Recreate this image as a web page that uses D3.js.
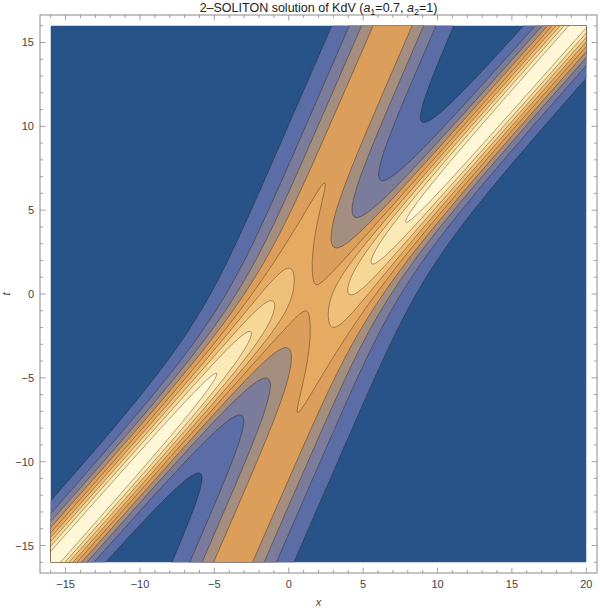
<!DOCTYPE html>
<html>
<head>
<meta charset="utf-8">
<script src="https://cdn.jsdelivr.net/npm/d3@7"></script>
<style>
  body { margin: 0; background: #fff; }
  text { font-family: "Liberation Sans", Arial, sans-serif; }
</style>
</head>
<body>
<script>
// soliton parameters (from the title) and phases
const amps = [0.7, 1];
const phases = [0.6, 0];
const xRange = [-16, 20];
const tRange = [-16, 16];
const levels = [0.05, 0.1, 0.15, 0.2, 0.25, 0.3, 0.35, 0.4, 0.45];
const bandColors = ["#275389", "#5a6da7", "#7b7c9b", "#a48e80", "#dc9f5b",
                    "#e6ab62", "#efc07a", "#f6d796", "#fbeab6", "#fff7d6"];
const xTicks = [-15, -10, -5, 0, 5, 10, 15, 20];
const tTicks = [-15, -10, -5, 0, 5, 10, 15];

const w = 600, h = 610;
const frameL = 40, frameR = 597, frameT = 15, frameB = 573;

// KdV two-soliton: u = 2 d2/dx2 log F
function kdv(x, t) {
  const [a1, a2] = amps;
  const A = Math.pow((a1 - a2) / (a1 + a2), 2);
  const e1 = Math.exp(a1 * x - a1 * a1 * a1 * t + phases[0]);
  const e2 = Math.exp(a2 * x - a2 * a2 * a2 * t + phases[1]);
  const e12 = A * e1 * e2;
  const F = 1 + e1 + e2 + e12;
  const F1 = a1 * e1 + a2 * e2 + (a1 + a2) * e12;
  const F2 = a1 * a1 * e1 + a2 * a2 * e2 + (a1 + a2) * (a1 + a2) * e12;
  return 2 * (F * F2 - F1 * F1) / (F * F);
}

// padding of 2% on each side, like the original frame
const xPad = (xRange[1] - xRange[0]) * 0.02;
const tPad = (tRange[1] - tRange[0]) * 0.02;
const xScale = d3.scaleLinear().domain([xRange[0] - xPad, xRange[1] + xPad]).range([frameL, frameR]);
const yScale = d3.scaleLinear().domain([tRange[0] - tPad, tRange[1] + tPad]).range([frameB, frameT]);

// sample grid
const step = 0.08;
const nx = Math.round((xRange[1] - xRange[0]) / step) + 1;
const ny = Math.round((tRange[1] - tRange[0]) / step) + 1;
const values = new Float64Array(nx * ny);
for (let j = 0; j < ny; j++) {
  for (let i = 0; i < nx; i++) {
    values[j * nx + i] = kdv(xRange[0] + i * step, tRange[0] + j * step);
  }
}

const svg = d3.select("body").append("svg")
  .attr("width", w)
  .attr("height", h);

svg.append("defs").append("clipPath").attr("id", "plotclip")
  .append("rect")
  .attr("x", xScale(xRange[0]))
  .attr("y", yScale(tRange[1]))
  .attr("width", xScale(xRange[1]) - xScale(xRange[0]))
  .attr("height", yScale(tRange[0]) - yScale(tRange[1]));

const proj = d3.geoTransform({
  point: function(px, py) {
    this.stream.point(xScale(xRange[0] + (px - 0.5) * step), yScale(tRange[0] + (py - 0.5) * step));
  }
});
const path = d3.geoPath(proj);

const contours = d3.contours().size([nx, ny]).thresholds([-1].concat(levels))(values);

const plot = svg.append("g").attr("clip-path", "url(#plotclip)");

plot.selectAll("path.band")
  .data(contours)
  .enter()
  .append("path")
  .attr("class", "band")
  .attr("d", path)
  .attr("fill", (d, i) => bandColors[i])
  .attr("stroke", "none");

plot.selectAll("path.line")
  .data(contours.slice(1))
  .enter()
  .append("path")
  .attr("class", "line")
  .attr("d", path)
  .attr("fill", "none")
  .attr("stroke", "rgba(40,20,0,0.55)")
  .attr("stroke-width", 0.7);

// frame
svg.append("rect")
  .attr("x", frameL).attr("y", frameT)
  .attr("width", frameR - frameL).attr("height", frameB - frameT)
  .attr("fill", "none")
  .attr("stroke", "#8a8a8a")
  .attr("stroke-width", 1);

const minorX = d3.range(-16, 21, 1);
const minorT = d3.range(-16, 17, 1);
const tickColor = "#8a8a8a";

function tickLine(x1, y1, x2, y2) {
  svg.append("line")
    .attr("x1", x1).attr("y1", y1).attr("x2", x2).attr("y2", y2)
    .attr("stroke", tickColor).attr("stroke-width", 0.8);
}

minorX.forEach(v => {
  const len = xTicks.includes(v) ? 5.5 : 3;
  const px = xScale(v);
  tickLine(px, frameB, px, frameB - len);
  tickLine(px, frameT, px, frameT + len);
});
minorT.forEach(v => {
  const len = tTicks.includes(v) ? 5.5 : 3;
  const py = yScale(v);
  tickLine(frameL, py, frameL + len, py);
  tickLine(frameR, py, frameR - len, py);
});

const fmt = v => (v < 0 ? "\u2212" + Math.abs(v) : String(v));

svg.selectAll("text.xtick")
  .data(xTicks)
  .enter()
  .append("text")
  .attr("class", "xtick")
  .attr("x", d => xScale(d))
  .attr("y", frameB + 15)
  .attr("text-anchor", "middle")
  .attr("font-size", 11)
  .attr("fill", "#444")
  .text(fmt);

svg.selectAll("text.ytick")
  .data(tTicks)
  .enter()
  .append("text")
  .attr("class", "ytick")
  .attr("x", frameL - 6)
  .attr("y", d => yScale(d) + 4)
  .attr("text-anchor", "end")
  .attr("font-size", 11)
  .attr("fill", "#444")
  .text(fmt);

// axis labels
svg.append("text")
  .attr("x", (frameL + frameR) / 2)
  .attr("y", 606)
  .attr("text-anchor", "middle")
  .attr("font-size", 11)
  .attr("font-style", "italic")
  .attr("fill", "#444")
  .text("x");

svg.append("text")
  .attr("transform", `translate(10, ${yScale(0)}) rotate(-90)`)
  .attr("text-anchor", "middle")
  .attr("font-size", 11)
  .attr("font-style", "italic")
  .attr("fill", "#444")
  .text("t");

// title
const title = svg.append("text")
  .attr("x", (frameL + frameR) / 2)
  .attr("y", 12)
  .attr("text-anchor", "middle")
  .attr("font-size", 12.5)
  .attr("fill", "#222");
title.append("tspan").text("2\u2013SOLITON solution of KdV (");
title.append("tspan").attr("font-style", "italic").text("a");
title.append("tspan").attr("font-size", 9).attr("dy", 3).text("1");
title.append("tspan").attr("dy", -3).text("=0.7, ");
title.append("tspan").attr("font-style", "italic").text("a");
title.append("tspan").attr("font-size", 9).attr("dy", 3).text("2");
title.append("tspan").attr("dy", -3).text("=1)");
</script>
</body>
</html>
